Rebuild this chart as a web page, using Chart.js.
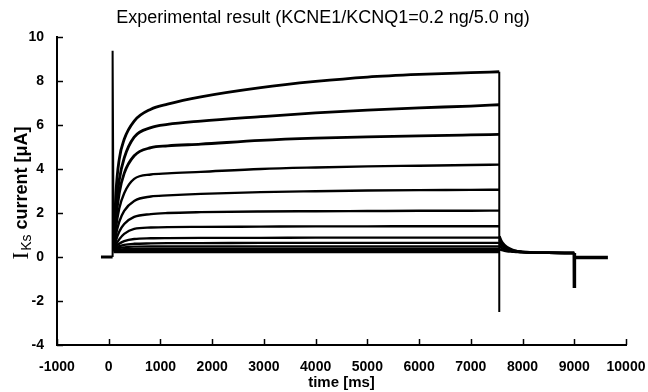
<!DOCTYPE html>
<html>
<head>
<meta charset="utf-8">
<script src="https://cdn.jsdelivr.net/npm/chart.js@4.4.1/dist/chart.umd.min.js"></script>
<style>
  html, body { margin: 0; padding: 0; background: #fff; }
  #wrap { width: 648px; height: 392px; position: relative; }
</style>
</head>
<body>
<div id="wrap"><canvas id="c" width="648" height="392"></canvas></div>
<script>
// ---- Data ----
const titleText = "Experimental result (KCNE1/KCNQ1=0.2 ng/5.0 ng)";
const xTitle = "time [ms]";
const xTicks = [-1000, 0, 1000, 2000, 3000, 4000, 5000, 6000, 7000, 8000, 9000, 10000];
const yTicks = [-4, -2, 0, 2, 4, 6, 8, 10];

// time points (ms) of the activation phase
const tRise = [95, 139, 203, 299, 492, 815, 1137, 1780, 2938, 4000, 5000, 6000, 7000, 7550];
// current traces (uA), one per voltage step
const trace1  = [0.30, 2.90, 4.44, 5.35, 6.18, 6.72, 6.95, 7.28, 7.70, 7.98, 8.18, 8.30, 8.38, 8.42];
const trace2  = [0.30, 2.20, 3.50, 4.50, 5.45, 5.88, 6.03, 6.18, 6.38, 6.55, 6.68, 6.78, 6.86, 6.92];
const trace3  = [0.30, 1.70, 2.90, 3.80, 4.60, 4.97, 5.05, 5.13, 5.30, 5.40, 5.46, 5.51, 5.55, 5.57];
const trace4  = [0.30, 1.30, 2.20, 2.90, 3.55, 3.75, 3.80, 3.87, 4.00, 4.07, 4.12, 4.15, 4.18, 4.20];
const trace5  = [0.30, 1.00, 1.60, 2.10, 2.55, 2.75, 2.80, 2.87, 2.95, 2.99, 3.02, 3.04, 3.05, 3.06];
const trace6  = [0.30, 0.75, 1.15, 1.50, 1.82, 1.95, 2.00, 2.04, 2.07, 2.08, 2.09, 2.10, 2.10, 2.11];
const trace7  = [0.30, 0.55, 0.80, 1.05, 1.28, 1.34, 1.36, 1.37, 1.38, 1.39, 1.39, 1.40, 1.40, 1.40];
const trace8  = [0.30, 0.45, 0.60, 0.72, 0.82, 0.85, 0.86, 0.87, 0.87, 0.88, 0.88, 0.88, 0.88, 0.88];
const trace9  = [0.30, 0.38, 0.48, 0.55, 0.60, 0.62, 0.63, 0.63, 0.64, 0.64, 0.64, 0.64, 0.64, 0.64];
const trace10 = [0.28, 0.33, 0.40, 0.44, 0.47, 0.48, 0.48, 0.48, 0.48, 0.48, 0.48, 0.48, 0.48, 0.48];
const trace11 = [0.26, 0.30, 0.33, 0.35, 0.36, 0.36, 0.36, 0.36, 0.36, 0.36, 0.36, 0.36, 0.36, 0.36];
const trace12 = [0.24, 0.26, 0.28, 0.29, 0.30, 0.30, 0.30, 0.30, 0.30, 0.30, 0.30, 0.30, 0.30, 0.30];
const trace13 = [0.22, 0.22, 0.22, 0.22, 0.22, 0.22, 0.22, 0.22, 0.22, 0.22, 0.22, 0.22, 0.22, 0.22];

// tail currents after the step (ms, uA)
const tTail = [7555, 7600, 7650, 7700, 7800, 7900, 8000, 8200, 8500, 9000];
const tail1 = [0.94, 0.70, 0.55, 0.45, 0.33, 0.27, 0.24, 0.21, 0.19, 0.18];
const tail2 = [0.78, 0.60, 0.48, 0.40, 0.31, 0.26, 0.23, 0.20, 0.19, 0.18];
const tail3 = [0.62, 0.50, 0.41, 0.35, 0.29, 0.25, 0.22, 0.20, 0.19, 0.18];
const tail4 = [0.48, 0.40, 0.35, 0.31, 0.27, 0.24, 0.22, 0.20, 0.19, 0.18];
const tail5 = [0.35, 0.31, 0.28, 0.26, 0.24, 0.22, 0.21, 0.20, 0.19, 0.18];

// holding baseline, capacitive spikes and final segment
const tBase = [-150, 75];
const vBase = [0, 0];
const tSpikeOn = [75, 75, 95];
const vSpikeOn = [0, 9.37, 0.30];
const tStepOff = [7550, 7550];
const vStepOff = [8.42, -2.50];
const tSpikeOff2 = [9000, 9000, 9005, 9650];
const vSpikeOff2 = [0.18, -1.41, -0.02, -0.02];

// ---- build datasets ----
function pts(ts, vs) { return ts.map((t, i) => ({ x: t, y: vs[i] })); }
const rise = [trace1, trace2, trace3, trace4, trace5, trace6, trace7, trace8, trace9, trace10, trace11, trace12, trace13];
const tails = [tail1, tail2, tail3, tail4, tail5];
const datasets = [];
rise.forEach((v, i) => datasets.push({ data: pts(tRise, v), borderWidth: i < 3 ? 2.8 : 2.4, cubicInterpolationMode: 'monotone' }));
tails.forEach(v => datasets.push({ data: pts(tTail, v), borderWidth: 2.4, cubicInterpolationMode: 'monotone' }));
datasets.push({ data: pts(tBase, vBase), borderWidth: 3 });
datasets.push({ data: pts(tSpikeOn, vSpikeOn), borderWidth: 2 });
datasets.push({ data: pts(tStepOff, vStepOff), borderWidth: 2 });
datasets.push({ data: pts(tSpikeOff2, vSpikeOff2), borderWidth: 3.5 });
datasets.forEach(d => { d.borderColor = '#000'; d.pointRadius = 0; d.fill = false; });

const tickFont = { family: "'Liberation Sans', Arial, sans-serif", size: 14, weight: 'bold' };

const decor = {
  id: 'decor',
  afterDraw(chart) {
    const ctx = chart.ctx, xs = chart.scales.x, ys = chart.scales.y;
    ctx.save();
    ctx.strokeStyle = '#000';
    ctx.lineWidth = 1.5;
    // inward tick marks
    xTicks.forEach(v => {
      const px = Math.round(xs.getPixelForValue(v)) + 0.5;
      ctx.beginPath(); ctx.moveTo(px, ys.bottom); ctx.lineTo(px, ys.bottom - 6); ctx.stroke();
    });
    yTicks.forEach(v => {
      const py = Math.round(ys.getPixelForValue(v)) + 0.5;
      ctx.beginPath(); ctx.moveTo(xs.left, py); ctx.lineTo(xs.left + 6, py); ctx.stroke();
    });
    // chart title
    ctx.fillStyle = '#000';
    ctx.font = "18px 'Liberation Sans', Arial, sans-serif";
    ctx.textAlign = 'center';
    ctx.textBaseline = 'middle';
    ctx.fillText(titleText, 323, 18);
    // y axis label with subscript
    const f1 = "23px 'Liberation Serif', 'Times New Roman', serif";
    const f2 = "14px 'Liberation Sans', Arial, sans-serif";
    const f3 = "bold 18px 'Liberation Sans', Arial, sans-serif";
    const s1 = "I", s2 = "Ks", s3 = " current [\u03BCA]";
    ctx.font = f1; const w1 = ctx.measureText(s1).width;
    ctx.font = f2; const w2 = ctx.measureText(s2).width;
    ctx.font = f3; const w3 = ctx.measureText(s3).width;
    const total = w1 + w2 + w3 + 1;
    ctx.translate(21, (ys.top + ys.bottom) / 2 + 2);
    ctx.rotate(-Math.PI / 2);
    ctx.textAlign = 'left';
    ctx.textBaseline = 'alphabetic';
    let x0 = -total / 2;
    ctx.font = f1; ctx.fillText(s1, x0, 7); x0 += w1 + 1;
    ctx.font = f2; ctx.fillText(s2, x0, 10); x0 += w2;
    ctx.font = f3; ctx.fillText(s3, x0, 6);
    ctx.restore();
  }
};

new Chart(document.getElementById('c'), {
  type: 'line',
  data: { datasets },
  options: {
    responsive: false,
    animation: false,
    events: [],
    layout: { padding: { left: 0, right: 22, top: 37, bottom: 0 } },
    plugins: { legend: { display: false }, tooltip: { enabled: false }, title: { display: false } },
    scales: {
      x: {
        type: 'linear', min: -1000, max: 10000,
        afterBuildTicks: s => { s.ticks = xTicks.map(v => ({ value: v })); },
        afterFit: s => { s.height = 47; s.paddingLeft = 0; s.paddingRight = 0; },
        grid: { display: false, drawTicks: false },
        border: { display: true, color: '#000', width: 2 },
        ticks: { color: '#000', font: tickFont, padding: 14, maxRotation: 0, autoSkip: false, callback: v => String(v) },
        title: { display: true, text: xTitle, color: '#000', font: { family: "'Liberation Sans', Arial, sans-serif", size: 15, weight: 'bold' }, padding: { top: 0, bottom: 0 } }
      },
      y: {
        type: 'linear', min: -4, max: 10,
        afterBuildTicks: s => { s.ticks = yTicks.map(v => ({ value: v })); },
        afterFit: s => { s.width = 57; s.paddingTop = 0; s.paddingBottom = 0; },
        grid: { display: false, drawTicks: false },
        border: { display: true, color: '#000', width: 2 },
        ticks: { color: '#000', font: tickFont, padding: 13, callback: v => String(v) }
      }
    }
  },
  plugins: [decor]
});
</script>
</body>
</html>
